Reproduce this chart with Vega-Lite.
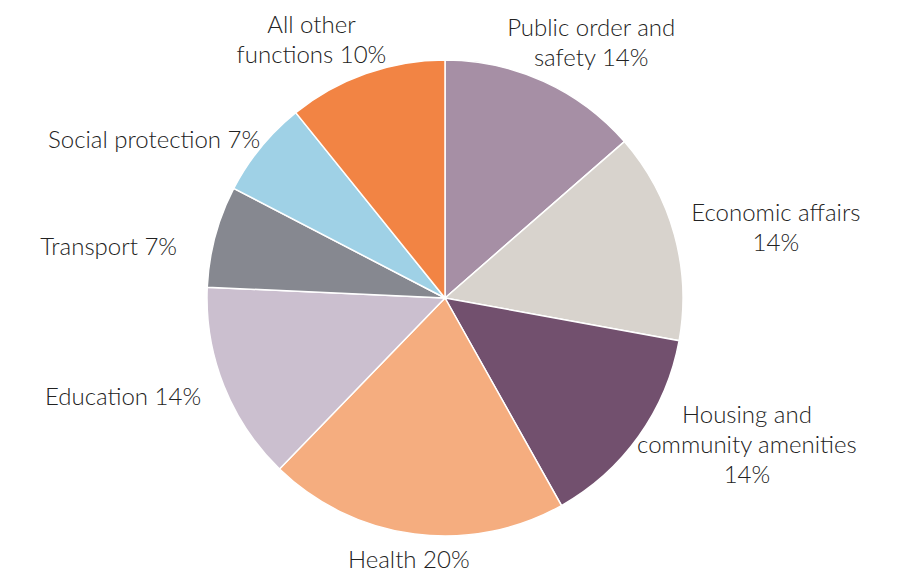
{
  "$schema": "https://vega.github.io/schema/vega-lite/v6.json",
  "autosize": {"type": "fit", "contains": "padding"},
  "width": 900,
  "height": 583,
  "padding": {"left": 0, "right": 10, "top": 13, "bottom": 0},
  "background": "white",
  "view": {"stroke": null},
  "data": {
    "values": [
      {"order": 1, "category": "Public order and safety", "label": "Public order and\nsafety 14%", "value": 13.6},
      {"order": 2, "category": "Economic affairs", "label": "Economic affairs\n14%", "value": 14.3},
      {"order": 3, "category": "Housing and community amenities", "label": "Housing and\ncommunity amenities\n14%", "value": 14.0},
      {"order": 4, "category": "Health", "label": "Health 20%", "value": 20.4},
      {"order": 5, "category": "Education", "label": "Education 14%", "value": 13.5},
      {"order": 6, "category": "Transport", "label": "Transport 7%", "value": 6.9},
      {"order": 7, "category": "Social protection", "label": "Social protection 7%", "value": 6.6},
      {"order": 8, "category": "All other functions", "label": "All other\nfunctions 10%", "value": 10.8}
    ]
  },
  "encoding": {
    "theta": {"field": "value", "type": "quantitative", "stack": true},
    "order": {"field": "order", "type": "quantitative"},
    "color": {
      "field": "category",
      "type": "nominal",
      "legend": null,
      "scale": {
        "domain": ["Public order and safety", "Economic affairs", "Housing and community amenities", "Health", "Education", "Transport", "Social protection", "All other functions"],
        "range": ["#a68fa5", "#d8d3cd", "#72506e", "#f5ad7f", "#cbbfcf", "#868890", "#9fd1e6", "#f28444"]
      }
    }
  },
  "layer": [
    {
      "mark": {"type": "arc", "outerRadius": 238, "stroke": "white", "strokeWidth": 1.5}
    },
    {
      "mark": {
        "type": "text",
        "font": "Lato",
        "fontWeight": 300,
        "fontSize": 24,
        "align": "center",
        "baseline": "middle",
        "lineBreak": "\n",
        "lineHeight": 30,
        "dy": {"expr": "-11 * (length(split(datum.label, '\\n')) - 1)"},
        "thetaOffset": {"expr": "-0.0328 + 0.1616 * sin(2 * scale('theta', 0.5 * datum['value_start'] + 0.5 * datum['value_end']))"},
        "radius": {"expr": "253 + 88 * abs(sin(scale('theta', 0.5 * datum['value_start'] + 0.5 * datum['value_end']) - 0.0328 + 0.1616 * sin(2 * scale('theta', 0.5 * datum['value_start'] + 0.5 * datum['value_end']))))"}
      },
      "encoding": {
        "text": {"field": "label", "type": "nominal"},
        "color": {"value": "#222222"}
      }
    }
  ]
}
